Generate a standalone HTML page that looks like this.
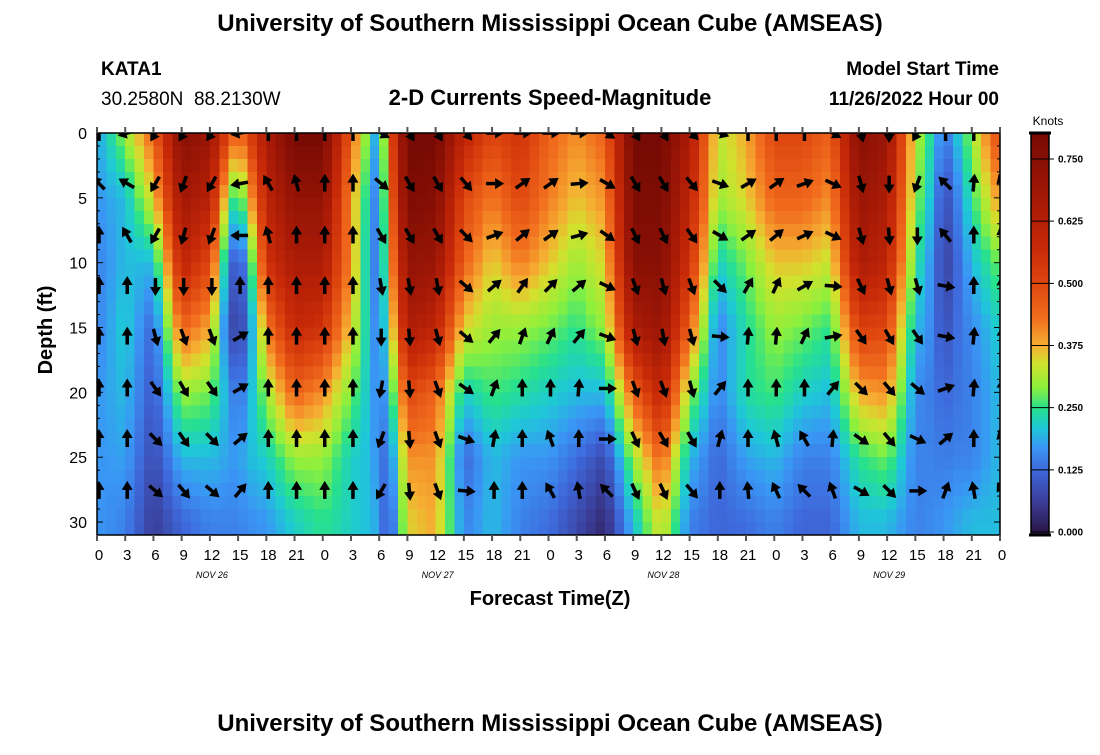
<!DOCTYPE html>
<html><head><meta charset="utf-8">
<style>
body{margin:0;background:#fff;}
svg text{font-family:"Liberation Sans",Arial,sans-serif;}
</style></head>
<body>
<svg id="chart" width="1100" height="750" viewBox="0 0 1100 750" xmlns="http://www.w3.org/2000/svg">
<rect width="1100" height="750" fill="#fff"/>
<text x="550" y="31" text-anchor="middle" font-size="24" font-weight="bold">University of Southern Mississippi Ocean Cube (AMSEAS)</text>
<text x="101" y="75" font-size="19" font-weight="bold">KATA1</text>
<text x="101" y="105" font-size="19">30.2580N&#160;&#160;88.2130W</text>
<text x="550" y="105" text-anchor="middle" font-size="22" font-weight="bold">2-D Currents Speed-Magnitude</text>
<text x="999" y="75" text-anchor="end" font-size="19" font-weight="bold">Model Start Time</text>
<text x="999" y="105" text-anchor="end" font-size="19" font-weight="bold">11/26/2022 Hour 00</text>
<defs><clipPath id="plotclip"><rect x="97" y="133" width="903" height="402"/></clipPath></defs>
<g id="heat" clip-path="url(#plotclip)" shape-rendering="crispEdges"></g>
<g id="arrows" clip-path="url(#plotclip)"></g>
<rect x="97" y="133" width="903" height="402" fill="none" stroke="#000" stroke-width="1.5"/>
<g id="axes"></g>
<text transform="translate(52,330) rotate(-90)" text-anchor="middle" font-size="20" font-weight="bold">Depth (ft)</text>
<text x="550" y="605" text-anchor="middle" font-size="20" font-weight="bold">Forecast Time(Z)</text>
<g id="colorbar"></g>
<text x="1048" y="125" text-anchor="middle" font-size="12">Knots</text>
<text x="550" y="731" text-anchor="middle" font-size="24" font-weight="bold">University of Southern Mississippi Ocean Cube (AMSEAS)</text>
</svg>
<script>
// ---- data ----
const hours = [0,3,6,9,12,14,15,16,18,21,24,27,29,30,31,33,36,39,42,45,48,51,54,57,60,63,66,69,72,75,78,81,84,87,89,90,91,93,96];
const depths = [0,5,10,15,20,25,30];
const speed = [
[0.18,0.17,0.15,0.15,0.17,0.17,0.17],
[0.30,0.20,0.20,0.22,0.20,0.18,0.15],
[0.45,0.35,0.20,0.12,0.10,0.08,0.06],
[0.75,0.68,0.60,0.45,0.30,0.20,0.12],
[0.70,0.62,0.50,0.38,0.28,0.20,0.15],
[0.50,0.30,0.15,0.10,0.18,0.18,0.15],
[0.42,0.22,0.08,0.06,0.12,0.17,0.15],
[0.50,0.35,0.18,0.12,0.18,0.20,0.16],
[0.65,0.60,0.55,0.42,0.30,0.22,0.17],
[0.80,0.72,0.65,0.58,0.45,0.30,0.22],
[0.80,0.72,0.65,0.55,0.40,0.30,0.25],
[0.45,0.40,0.40,0.35,0.28,0.22,0.22],
[0.25,0.20,0.18,0.20,0.20,0.20,0.20],
[0.14,0.12,0.12,0.13,0.14,0.15,0.18],
[0.45,0.40,0.35,0.28,0.20,0.12,0.08],
[0.80,0.78,0.72,0.65,0.50,0.40,0.35],
[0.80,0.76,0.70,0.60,0.45,0.40,0.38],
[0.60,0.50,0.45,0.35,0.22,0.12,0.15],
[0.50,0.42,0.35,0.30,0.26,0.20,0.20],
[0.55,0.50,0.42,0.30,0.24,0.17,0.15],
[0.45,0.42,0.36,0.28,0.22,0.17,0.13],
[0.40,0.36,0.30,0.25,0.20,0.13,0.08],
[0.45,0.40,0.35,0.30,0.20,0.08,0.03],
[0.80,0.78,0.75,0.65,0.45,0.30,0.20],
[0.80,0.78,0.75,0.70,0.60,0.45,0.35],
[0.65,0.60,0.55,0.45,0.30,0.20,0.15],
[0.32,0.30,0.22,0.15,0.15,0.12,0.12],
[0.38,0.35,0.28,0.24,0.24,0.18,0.13],
[0.50,0.45,0.36,0.30,0.26,0.20,0.15],
[0.50,0.45,0.36,0.28,0.22,0.15,0.12],
[0.45,0.40,0.33,0.25,0.20,0.15,0.12],
[0.75,0.70,0.65,0.52,0.38,0.25,0.20],
[0.70,0.65,0.60,0.50,0.40,0.28,0.20],
[0.32,0.30,0.25,0.20,0.16,0.15,0.15],
[0.22,0.18,0.15,0.15,0.14,0.15,0.16],
[0.13,0.08,0.06,0.08,0.12,0.14,0.17],
[0.18,0.12,0.10,0.12,0.13,0.15,0.18],
[0.30,0.25,0.20,0.16,0.15,0.15,0.20],
[0.50,0.40,0.28,0.22,0.20,0.20,0.20]];
const arrowHours = [0,3,6,9,12,15,18,21,24,27,30,33,36,39,42,45,48,51,54,57,60,63,66,69,72,75,78,81,84,87,90,93,96];
const arrowDepths = [0,3.9,7.9,11.8,15.7,19.7,23.6,27.6];
const arrowDir = [
[0,315,0,0,0,0,0,0],
[255,300,330,0,0,0,0,0],
[210,210,210,180,165,145,135,130],
[210,200,195,180,160,150,145,140],
[215,210,200,180,160,145,135,130],
[260,260,270,0,60,60,50,40],
[0,330,345,0,0,0,0,0],
[0,345,0,0,0,0,0,0],
[0,0,0,0,0,0,0,0],
[0,0,0,0,0,0,0,0],
[120,130,150,170,180,190,200,210],
[150,150,150,170,175,175,175,175],
[150,150,150,170,165,160,160,160],
[140,140,135,130,130,125,110,95],
[90,90,70,50,40,20,10,0],
[90,55,50,35,20,0,0,0],
[90,55,55,45,25,0,340,330],
[90,85,75,50,40,5,0,350],
[125,120,125,115,110,90,90,315],
[150,150,155,160,165,160,155,155],
[150,150,155,165,170,160,150,155],
[135,140,145,160,165,165,150,140],
[110,110,120,135,95,40,15,0],
[0,60,55,30,5,0,0,355],
[0,55,50,25,5,0,345,335],
[0,70,65,60,25,0,330,315],
[120,115,115,95,80,40,5,340],
[165,165,165,155,145,135,125,120],
[180,180,175,165,150,140,140,135],
[210,200,180,165,145,130,115,90],
[0,315,320,100,100,70,50,20],
[0,5,0,0,5,5,0,350],
[0,340,350,355,0,0,340,330]];
const xTickLabels = ["0","3","6","9","12","15","18","21","0","3","6","9","12","15","18","21","0","3","6","9","12","15","18","21","0","3","6","9","12","15","18","21","0"];
const yTickLabels = ["0","5","10","15","20","25","30"];
const dateLabels = ["NOV 26","NOV 27","NOV 28","NOV 29"];
const dateHours = [12,36,60,84];
const cbTicks = [0,0.125,0.25,0.375,0.5,0.625,0.75];
const cbLabels = ["0.000","0.125","0.250","0.375","0.500","0.625","0.750"];

// ---- scales ----
const X0=97,X1=1000,Y0=133,Y1=535,HMAX=96,DMAX=31;
const xs = h => X0 + h*(X1-X0)/HMAX;
const ys = d => Y0 + d*(Y1-Y0)/DMAX;
const CB_Y0=532, CB_PER=(532-159)/0.75, CBX=1031, CBW=18;
const cby = v => CB_Y0 - v*CB_PER;
const stops=[[0,[42,22,70]],[0.06,[58,60,150]],[0.125,[62,105,220]],[0.17,[58,150,245]],[0.21,[30,200,215]],[0.25,[40,225,140]],[0.29,[140,240,60]],[0.34,[210,225,45]],[0.375,[245,175,50]],[0.43,[242,110,30]],[0.5,[222,70,15]],[0.57,[200,42,8]],[0.66,[168,26,6]],[0.8,[118,10,4]]];
function color(v){
  if(v<=stops[0][0]) return `rgb(${stops[0][1]})`;
  for(let i=1;i<stops.length;i++){ if(v<=stops[i][0]){const a=stops[i-1],b=stops[i],t=(v-a[0])/(b[0]-a[0]);
    return `rgb(${a[1].map((c,k)=>Math.round(c+(b[1][k]-c)*t)).join(',')})`; } }
  return `rgb(${stops[stops.length-1][1]})`;
}
function lerpIdx(arr,v){ for(let i=0;i<arr.length-1;i++){ if(v<=arr[i+1]) return [i,(v-arr[i])/(arr[i+1]-arr[i])]; } return [arr.length-2,1]; }
function sample(h,d){
  const [i,tx]=lerpIdx(hours,Math.min(h,hours[hours.length-1]));
  const [j,ty]=lerpIdx(depths,Math.min(d,depths[depths.length-1]));
  const a=speed[i][j],b=speed[i+1][j],c=speed[i][j+1],e=speed[i+1][j+1];
  return (a*(1-tx)+b*tx)*(1-ty)+(c*(1-tx)+e*tx)*ty;
}
const NS='http://www.w3.org/2000/svg';
function mk(tag,attrs,parent){const el=document.createElementNS(NS,tag);for(const k in attrs)el.setAttribute(k,attrs[k]);parent.appendChild(el);return el;}

const heat=document.getElementById('heat');
for(let h=0;h<HMAX;h++){
  for(let d=0;d<DMAX;d++){
    const v=sample(h+0.5,d+0.5);
    const r=mk('rect',{x:xs(h),y:ys(d),width:xs(h+1)-xs(h)+0.6,height:ys(d+1)-ys(d)+0.6,fill:color(v)},heat);
    
    
  }
}
const arr=document.getElementById('arrows');
arrowHours.forEach((h,i)=>{
  arrowDepths.forEach((d,j)=>{
    const g=mk('g',{transform:`translate(${xs(h)+2},${ys(d)}) rotate(${arrowDir[i][j]})`},arr);
    
    
    mk('line',{x1:0,y1:8,x2:0,y2:-3,stroke:'#000','stroke-width':3.5},g);
    mk('polygon',{points:'0,-10 -5.5,-1 5.5,-1',fill:'#000'},g);
  });
});
const ax=document.getElementById('axes');
for(let d=0;d<=DMAX;d++){
  const y=ys(d),len=d%5===0?6:3;
  mk('line',{x1:X0,y1:y,x2:X0+len,y2:y,stroke:'#000','stroke-width':1},ax);
  mk('line',{x1:X1,y1:y,x2:X1-len,y2:y,stroke:'#000','stroke-width':1},ax);
}
yTickLabels.forEach((l,i)=>{
  const t=mk('text',{x:87,y:ys(depths[i])+6,'text-anchor':'end','font-size':16},ax);t.textContent=l;
  
  
});
arrowHours.forEach((h,i)=>{
  const x=xs(h);
  mk('line',{x1:x,y1:Y0,x2:x,y2:Y0-6,stroke:'#555','stroke-width':2},ax);
  mk('line',{x1:x,y1:Y1,x2:x,y2:Y1+6,stroke:'#555','stroke-width':2},ax);
  const t=mk('text',{x:x+2,y:560,'text-anchor':'middle','font-size':15},ax);t.textContent=xTickLabels[i];
  
  
});
dateLabels.forEach((l,i)=>{
  const t=mk('text',{x:xs(dateHours[i])+2,y:578,'text-anchor':'middle','font-size':9,'font-style':'italic','font-family':'Liberation Mono, monospace'},ax);t.textContent=l;
  
  
});
const cb=document.getElementById('colorbar');
for(let y=133;y<535;y+=2){
  const v=(CB_Y0-y-1)/CB_PER;
  mk('rect',{x:CBX,y:y,width:CBW,height:2.5,fill:color(Math.max(0,v))},cb);
}
mk('rect',{x:CBX,y:133,width:CBW,height:402,fill:'none',stroke:'#000','stroke-width':1.5},cb);
mk('line',{x1:CBX-2,y1:133,x2:CBX+CBW+2,y2:133,stroke:'#000','stroke-width':3},cb);
mk('line',{x1:CBX-2,y1:535,x2:CBX+CBW+2,y2:535,stroke:'#000','stroke-width':3},cb);
cbTicks.forEach((v,i)=>{
  const y=cby(v);
  mk('line',{x1:CBX,y1:y,x2:CBX+CBW+5,y2:y,stroke:'#000','stroke-width':1},cb);
  const t=mk('text',{x:1058,y:y+3.5,'font-size':10,'font-weight':'bold'},cb);t.textContent=cbLabels[i];
  
  
});
</script>
</body></html>
